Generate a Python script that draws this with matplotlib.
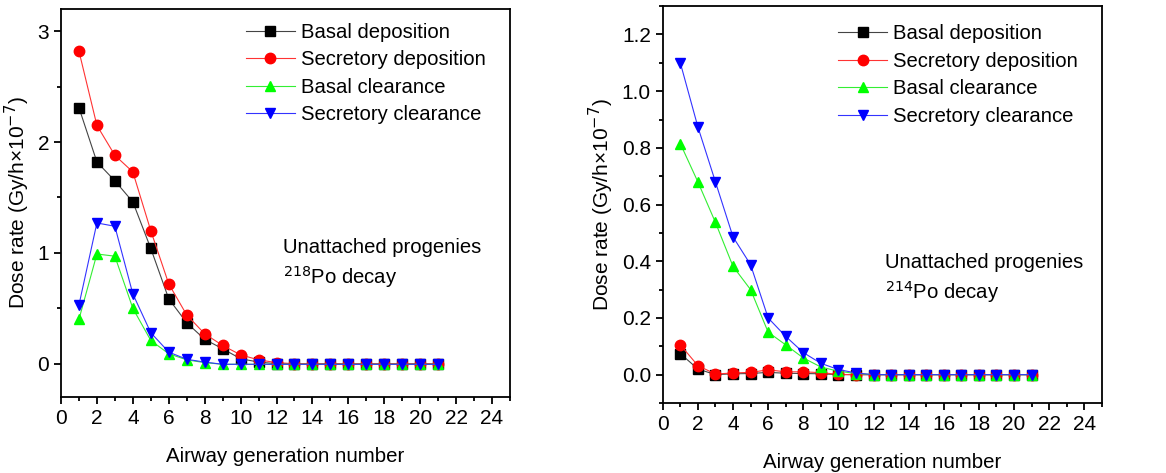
import numpy as np
import matplotlib.pyplot as plt
from matplotlib.ticker import MultipleLocator

plt.rcParams['font.family'] = ['Liberation Sans', 'DejaVu Sans']

gen = np.arange(1, 22)

# 218Po (左图)
basal_dep_218 = [2.31, 1.82, 1.65, 1.46, 1.04, 0.585, 0.37, 0.22, 0.135, 0.045, 0.015,
                 0, 0, 0, 0, 0, 0, 0, 0, 0, 0]
secr_dep_218 = [2.82, 2.15, 1.88, 1.73, 1.20, 0.72, 0.44, 0.27, 0.165, 0.08, 0.035,
                0.01, 0, 0, 0, 0, 0, 0, 0, 0, 0]
basal_clr_218 = [0.40, 0.99, 0.97, 0.50, 0.21, 0.09, 0.035, 0.01, -0.005, -0.005, -0.005,
                 -0.005, -0.005, -0.005, -0.005, -0.005, -0.005, -0.005, -0.005, -0.005, -0.005]
secr_clr_218 = [0.53, 1.27, 1.24, 0.63, 0.28, 0.105, 0.04, 0.015, -0.005, -0.005, -0.005,
                -0.005, -0.005, -0.005, -0.005, -0.005, -0.005, -0.005, -0.005, -0.005, -0.005]

# 214Po (右图)
basal_dep_214 = [0.074, 0.02, 0.0, 0.003, 0.004, 0.008, 0.005, 0.004, 0.003, 0.0, 0,
                 0, 0, 0, 0, 0, 0, 0, 0, 0, 0]
secr_dep_214 = [0.105, 0.032, 0.002, 0.006, 0.008, 0.017, 0.01, 0.01, 0.007, 0.001, 0,
                0, 0, 0, 0, 0, 0, 0, 0, 0, 0]
basal_clr_214 = [0.815, 0.68, 0.537, 0.382, 0.30, 0.15, 0.105, 0.059, 0.027, 0.012, 0.004,
                 0, 0, 0, 0, 0, 0, 0, 0, 0, 0]
secr_clr_214 = [1.10, 0.874, 0.68, 0.486, 0.388, 0.20, 0.135, 0.078, 0.04, 0.018, 0.006,
                0, 0, 0, 0, 0, 0, 0, 0, 0, 0]

labels = ['Basal deposition', 'Secretory deposition', 'Basal clearance', 'Secretory clearance']
markers = ['s', 'o', '^', 'v']
mcolors = ['black', 'red', '#00ff00', 'blue']
lcolors = ['#444444', '#ff3333', '#33ee33', '#3333ff']

fig = plt.figure(figsize=(11.66, 4.73), dpi=100)
ax1 = fig.add_axes([0.0523, 0.1607, 0.3851, 0.8203])
ax2 = fig.add_axes([0.5684, 0.148, 0.3766, 0.839])


def draw(ax, series, iso, ylim, ymajor, yminor, fmt, text_xy, leg_xy):
    for y, lab, m, mc, lc in zip(series, labels, markers, mcolors, lcolors):
        ax.plot(gen, y, color=lc, lw=0.8, marker=m, ms=7.5, mfc=mc, mec=mc, label=lab)
    ax.set_xlim(0, 25)
    ax.set_ylim(*ylim)
    ax.xaxis.set_major_locator(MultipleLocator(2))
    ax.xaxis.set_minor_locator(MultipleLocator(1))
    ax.yaxis.set_major_locator(MultipleLocator(ymajor))
    ax.yaxis.set_minor_locator(MultipleLocator(yminor))
    ax.yaxis.set_major_formatter(fmt)
    ax.tick_params(which='major', direction='out', length=5, width=1.3, labelsize=15)
    ax.tick_params(which='minor', direction='out', length=3, width=1.3)
    for s in ax.spines.values():
        s.set_linewidth(1.3)
    ax.set_xlabel('Airway generation number', fontsize=14.7, labelpad=14)
    ax.set_ylabel('Dose rate (Gy/h×10$^{-7}$)', fontsize=15)
    ax.legend(loc='upper right', bbox_to_anchor=leg_xy, fontsize=14.6, frameon=False,
              handlelength=2.4, handletextpad=0.3, labelspacing=0.42,
              borderaxespad=0, borderpad=0.2)
    ax.text(text_xy[0], text_xy[1], 'Unattached progenies\n$^{' + iso + '}$Po decay',
            transform=ax.transAxes, fontsize=14.6, va='top', linespacing=1.35)


draw(ax1, [basal_dep_218, secr_dep_218, basal_clr_218, secr_clr_218], '218',
     (-0.3, 3.2), 1, 0.5, '{x:.0f}', (0.495, 0.41), (0.955, 0.975))
draw(ax2, [basal_dep_214, secr_dep_214, basal_clr_214, secr_clr_214], '214',
     (-0.1, 1.3), 0.2, 0.1, '{x:.1f}', (0.505, 0.377), (0.955, 0.965))

fig.savefig('out.png', dpi=100)
